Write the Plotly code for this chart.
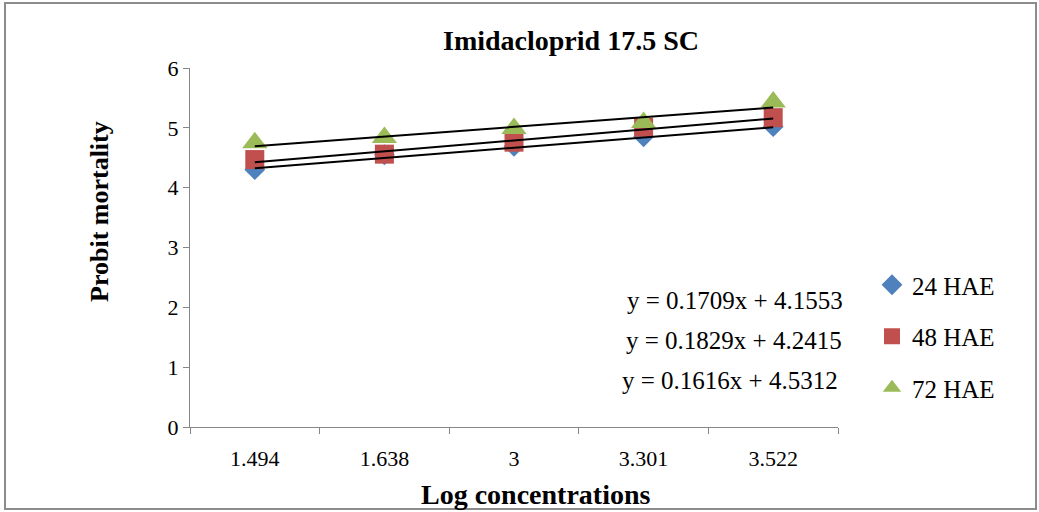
import plotly.graph_objects as go

# ---------------------------------------------------------------------------
# Données
# ---------------------------------------------------------------------------
log_conc = ["1.494", "1.638", "3", "3.301", "3.522"]

probit_24 = [4.30, 4.55, 4.69, 4.85, 5.02]
probit_48 = [4.47, 4.56, 4.76, 5.01, 5.17]
probit_72 = [4.75, 4.84, 4.99, 5.09, 5.43]

# équations des courbes de tendance (Excel, x = rang de la catégorie)
slopes = [0.1709, 0.1829, 0.1616]
intercepts = [4.1553, 4.2415, 4.5312]
equations = [
    "y = 0.1709x + 4.1553",
    "y = 0.1829x + 4.2415",
    "y = 0.1616x + 4.5312",
]

series_names = ["24 HAE", "48 HAE", "72 HAE"]
series_colors = ["#4F81BD", "#C0504D", "#9BBB59"]
series_symbols = ["diamond", "square", "triangle-up"]
series_sizes = [16, 19, 22]

FONT = "Liberation Serif, Times New Roman, serif"
AXIS_GREY = "#868686"

# zone de tracé (pixels)
W, H = 1039, 512
L, R, T, B = 190, 838, 68, 427


def px(x):
    return (x - L) / (R - L)


def py(y):
    return (B - y) / (B - T)


def label(text, x, y, size, angle=0):
    return dict(text=text, x=px(x), y=py(y), xref="paper", yref="paper",
                xanchor="center", yanchor="middle", showarrow=False,
                textangle=angle, font=dict(size=size, family=FONT, color="black"))


fig = go.Figure()

for name, vals, col, sym, size in zip(series_names, [probit_24, probit_48, probit_72],
                                      series_colors, series_symbols, series_sizes):
    fig.add_trace(go.Scatter(
        x=log_conc, y=vals, mode="markers", name=name, legendgroup=name,
        marker=dict(symbol=sym, size=size, color=col, line=dict(width=0)),
    ))

# courbes de tendance linéaires (de la 1re à la dernière catégorie)
n = len(log_conc)
for a, b in zip(slopes, intercepts):
    fig.add_trace(go.Scatter(
        x=[log_conc[0], log_conc[-1]],
        y=[a * 1 + b, a * n + b],
        mode="lines", line=dict(color="black", width=2),
        showlegend=False, hoverinfo="skip",
    ))

annotations = [
    label("<b>Imidacloprid 17.5 SC</b>", 571, 40, 28),
    label("<b>Log concentrations</b>", 536, 494, 28),
    label("<b>Probit mortality</b>", 99, 211, 26, angle=-90),
]
for eq, yy, xx in zip(equations, [300, 340, 380], [735, 734, 730]):
    annotations.append(label(eq, xx, yy, 25))

fig.update_layout(
    width=W, height=H,
    margin=dict(l=L, r=W - R, t=T, b=H - B),
    paper_bgcolor="white", plot_bgcolor="white",
    font=dict(family=FONT, color="black"),
    xaxis=dict(
        type="category", tickson="boundaries", ticks="outside", ticklen=6,
        tickcolor=AXIS_GREY, showline=True, linecolor=AXIS_GREY, linewidth=1,
        showgrid=False, zeroline=False, tickfont=dict(size=22, family=FONT),
        ticklabelstandoff=12, range=[-0.5, n - 0.5],
    ),
    yaxis=dict(
        range=[0, 6], dtick=1, ticks="outside", ticklen=6, tickcolor=AXIS_GREY,
        showline=True, linecolor=AXIS_GREY, linewidth=1, showgrid=False,
        zeroline=False, tickfont=dict(size=22, family=FONT),
    ),
    legend=dict(
        x=px(872), y=py(262), xanchor="left", yanchor="top",
        font=dict(size=25, family=FONT), tracegroupgap=16,
        bgcolor="rgba(0,0,0,0)",
    ),
    annotations=annotations,
    shapes=[dict(type="rect", xref="paper", yref="paper",
                 x0=px(5), x1=px(1036), y0=py(509), y1=py(3),
                 line=dict(color="#8C8C8C", width=2))],
)

fig.write_html("out.html", config={"displayModeBar": False},
               post_script="document.body.style.margin='0';")
